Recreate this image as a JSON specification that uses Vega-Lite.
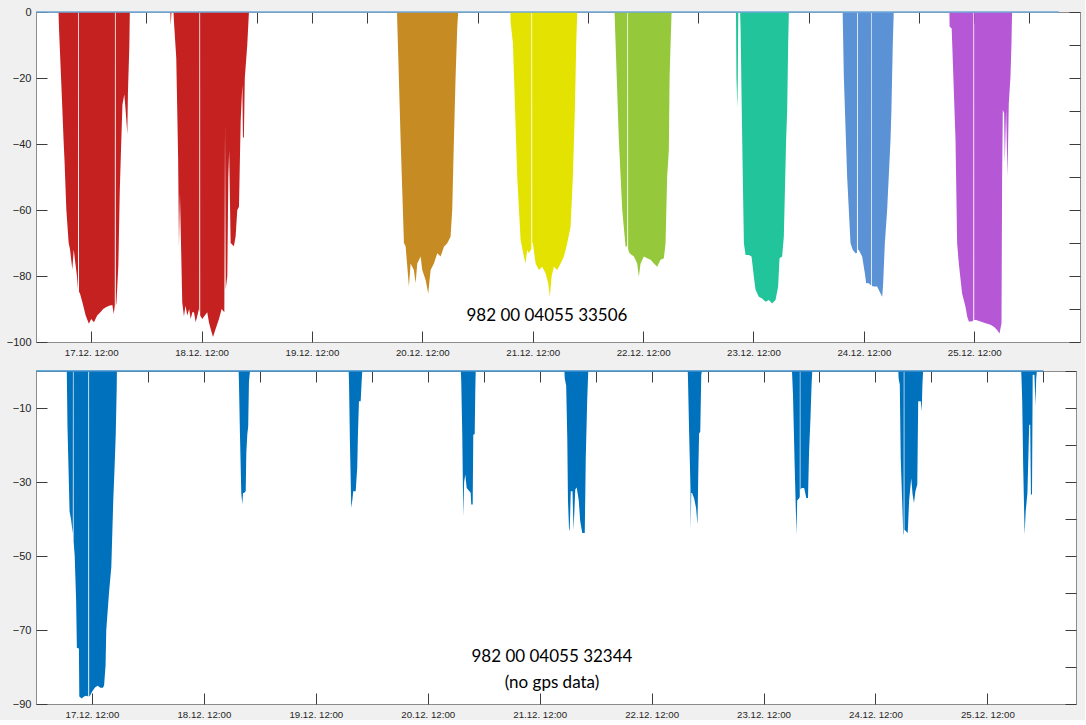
{
  "$schema": "https://vega.github.io/schema/vega-lite/v6.json",
  "background": "#f0f0f0",
  "padding": {"left": 5, "top": 5, "right": 4, "bottom": 0},
  "spacing": 9,
  "config": {
    "view": {"fill": "white", "stroke": "#8c8c8c", "strokeWidth": 1},
    "axis": {"grid": false, "domain": false, "tickColor": "#3c3c3c", "tickSize": 11, "offset": -11, "zindex": 1, "labelFont": "Liberation Sans", "labelColor": "#262626"}
  },
  "datasets": {
    "topdives": [
      {"t":"2017-12-17T04:54","d":0,"day":"17.12."},{"t":"2017-12-17T05:00","d":-5,"day":"17.12."},{"t":"2017-12-17T05:36","d":-25,"day":"17.12."},{"t":"2017-12-17T06:00","d":-39,"day":"17.12."},{"t":"2017-12-17T06:12","d":-45,"day":"17.12."},{"t":"2017-12-17T06:36","d":-60,"day":"17.12."},{"t":"2017-12-17T07:06","d":-70,"day":"17.12."},{"t":"2017-12-17T07:24","d":-72,"day":"17.12."},{"t":"2017-12-17T07:54","d":-78,"day":"17.12."},{"t":"2017-12-17T08:12","d":-72,"day":"17.12."},{"t":"2017-12-17T08:54","d":-80,"day":"17.12."},{"t":"2017-12-17T09:08","d":-84,"day":"17.12."},{"t":"2017-12-17T09:10","d":0,"day":"17.12."},{"t":"2017-12-17T09:20","d":0,"day":"17.12."},{"t":"2017-12-17T09:21","d":-85,"day":"17.12."},{"t":"2017-12-17T09:30","d":-85,"day":"17.12."},{"t":"2017-12-17T10:06","d":-88,"day":"17.12."},{"t":"2017-12-17T10:48","d":-92,"day":"17.12."},{"t":"2017-12-17T11:30","d":-94.5,"day":"17.12."},{"t":"2017-12-17T12:00","d":-93,"day":"17.12."},{"t":"2017-12-17T12:36","d":-94,"day":"17.12."},{"t":"2017-12-17T13:18","d":-92,"day":"17.12."},{"t":"2017-12-17T14:00","d":-91,"day":"17.12."},{"t":"2017-12-17T14:36","d":-90,"day":"17.12."},{"t":"2017-12-17T15:12","d":-89.5,"day":"17.12."},{"t":"2017-12-17T15:54","d":-89,"day":"17.12."},{"t":"2017-12-17T16:36","d":-88.8,"day":"17.12."},{"t":"2017-12-17T16:54","d":-91.5,"day":"17.12."},{"t":"2017-12-17T17:08","d":-89,"day":"17.12."},{"t":"2017-12-17T17:10","d":0,"day":"17.12."},{"t":"2017-12-17T17:20","d":0,"day":"17.12."},{"t":"2017-12-17T17:21","d":-89,"day":"17.12."},{"t":"2017-12-17T17:30","d":-88,"day":"17.12."},{"t":"2017-12-17T17:54","d":-77,"day":"17.12."},{"t":"2017-12-17T18:12","d":-55,"day":"17.12."},{"t":"2017-12-17T18:30","d":-41,"day":"17.12."},{"t":"2017-12-17T18:48","d":-28,"day":"17.12."},{"t":"2017-12-17T19:12","d":-25,"day":"17.12."},{"t":"2017-12-17T19:30","d":-30,"day":"17.12."},{"t":"2017-12-17T19:51","d":-37,"day":"17.12."},{"t":"2017-12-17T20:00","d":-24,"day":"17.12."},{"t":"2017-12-17T20:18","d":-10,"day":"17.12."},{"t":"2017-12-17T20:24","d":0,"day":"17.12."},

      {"t":"2017-12-18T05:12","d":0,"day":"18.12."},{"t":"2017-12-18T05:18","d":-4,"day":"18.12."},{"t":"2017-12-18T05:27","d":0,"day":"18.12."},{"t":"2017-12-18T05:54","d":0,"day":"18.12."},{"t":"2017-12-18T06:00","d":-3,"day":"18.12."},{"t":"2017-12-18T06:30","d":-14,"day":"18.12."},{"t":"2017-12-18T06:54","d":-44,"day":"18.12."},{"t":"2017-12-18T07:05","d":-71,"day":"18.12."},{"t":"2017-12-18T07:18","d":-55,"day":"18.12."},{"t":"2017-12-18T07:48","d":-88,"day":"18.12."},{"t":"2017-12-18T08:10","d":-92.3,"day":"18.12."},{"t":"2017-12-18T08:30","d":-89,"day":"18.12."},{"t":"2017-12-18T08:54","d":-92,"day":"18.12."},{"t":"2017-12-18T09:18","d":-90,"day":"18.12."},{"t":"2017-12-18T09:38","d":-93,"day":"18.12."},{"t":"2017-12-18T10:00","d":-91,"day":"18.12."},{"t":"2017-12-18T10:21","d":-91,"day":"18.12."},{"t":"2017-12-18T10:43","d":-94,"day":"18.12."},{"t":"2017-12-18T11:06","d":-92,"day":"18.12."},{"t":"2017-12-18T11:26","d":-90,"day":"18.12."},{"t":"2017-12-18T11:30","d":-91,"day":"18.12."},{"t":"2017-12-18T11:31","d":0,"day":"18.12."},{"t":"2017-12-18T11:41","d":0,"day":"18.12."},{"t":"2017-12-18T11:42","d":-92,"day":"18.12."},{"t":"2017-12-18T12:09","d":-93,"day":"18.12."},{"t":"2017-12-18T12:42","d":-92,"day":"18.12."},{"t":"2017-12-18T13:14","d":-91,"day":"18.12."},{"t":"2017-12-18T13:36","d":-94,"day":"18.12."},{"t":"2017-12-18T13:58","d":-96,"day":"18.12."},{"t":"2017-12-18T14:29","d":-98.5,"day":"18.12."},{"t":"2017-12-18T15:04","d":-96,"day":"18.12."},{"t":"2017-12-18T15:47","d":-93,"day":"18.12."},{"t":"2017-12-18T16:22","d":-90,"day":"18.12."},{"t":"2017-12-18T16:57","d":-91,"day":"18.12."},{"t":"2017-12-18T17:06","d":-34,"day":"18.12."},{"t":"2017-12-18T17:15","d":-84,"day":"18.12."},{"t":"2017-12-18T17:36","d":-80,"day":"18.12."},{"t":"2017-12-18T17:49","d":-50,"day":"18.12."},{"t":"2017-12-18T18:00","d":-42,"day":"18.12."},{"t":"2017-12-18T18:19","d":-70,"day":"18.12."},{"t":"2017-12-18T19:02","d":-71,"day":"18.12."},{"t":"2017-12-18T19:24","d":-68,"day":"18.12."},{"t":"2017-12-18T19:46","d":-60,"day":"18.12."},{"t":"2017-12-18T20:08","d":-59,"day":"18.12."},{"t":"2017-12-18T20:30","d":-33,"day":"18.12."},{"t":"2017-12-18T20:52","d":-22,"day":"18.12."},{"t":"2017-12-18T21:00","d":-38,"day":"18.12."},{"t":"2017-12-18T21:12","d":-38,"day":"18.12."},{"t":"2017-12-18T21:24","d":-20,"day":"18.12."},{"t":"2017-12-18T21:56","d":-10,"day":"18.12."},{"t":"2017-12-18T22:18","d":0,"day":"18.12."},

      {"t":"2017-12-20T06:30","d":0,"day":"20.12."},{"t":"2017-12-20T06:33","d":-3,"day":"20.12."},{"t":"2017-12-20T07:17","d":-38.8,"day":"20.12."},{"t":"2017-12-20T08:00","d":-70,"day":"20.12."},{"t":"2017-12-20T08:22","d":-71,"day":"20.12."},{"t":"2017-12-20T09:05","d":-83.2,"day":"20.12."},{"t":"2017-12-20T09:27","d":-76.2,"day":"20.12."},{"t":"2017-12-20T10:10","d":-78.2,"day":"20.12."},{"t":"2017-12-20T10:32","d":-82.2,"day":"20.12."},{"t":"2017-12-20T10:54","d":-76.2,"day":"20.12."},{"t":"2017-12-20T11:38","d":-74.1,"day":"20.12."},{"t":"2017-12-20T11:59","d":-78.2,"day":"20.12."},{"t":"2017-12-20T12:43","d":-81.2,"day":"20.12."},{"t":"2017-12-20T13:17","d":-85.3,"day":"20.12."},{"t":"2017-12-20T13:48","d":-78.2,"day":"20.12."},{"t":"2017-12-20T14:31","d":-76.2,"day":"20.12."},{"t":"2017-12-20T15:15","d":-73.1,"day":"20.12."},{"t":"2017-12-20T15:58","d":-74.1,"day":"20.12."},{"t":"2017-12-20T16:42","d":-71.1,"day":"20.12."},{"t":"2017-12-20T17:25","d":-70.1,"day":"20.12."},{"t":"2017-12-20T18:08","d":-68.1,"day":"20.12."},{"t":"2017-12-20T18:30","d":-60,"day":"20.12."},{"t":"2017-12-20T18:52","d":-38.8,"day":"20.12."},{"t":"2017-12-20T19:14","d":-19.6,"day":"20.12."},{"t":"2017-12-20T19:36","d":-4.4,"day":"20.12."},{"t":"2017-12-20T19:48","d":0,"day":"20.12."},

      {"t":"2017-12-21T07:09","d":0,"day":"21.12."},{"t":"2017-12-21T07:11","d":-3,"day":"21.12."},{"t":"2017-12-21T07:42","d":-9.5,"day":"21.12."},{"t":"2017-12-21T08:38","d":-49.9,"day":"21.12."},{"t":"2017-12-21T09:22","d":-69.1,"day":"21.12."},{"t":"2017-12-21T10:05","d":-74.1,"day":"21.12."},{"t":"2017-12-21T10:27","d":-76.2,"day":"21.12."},{"t":"2017-12-21T10:48","d":-72.1,"day":"21.12."},{"t":"2017-12-21T11:10","d":-73.1,"day":"21.12."},{"t":"2017-12-21T11:32","d":-72.1,"day":"21.12."},{"t":"2017-12-21T11:42","d":-72,"day":"21.12."},{"t":"2017-12-21T11:43","d":0,"day":"21.12."},{"t":"2017-12-21T11:53","d":0,"day":"21.12."},{"t":"2017-12-21T11:54","d":-70,"day":"21.12."},{"t":"2017-12-21T12:02","d":-70.1,"day":"21.12."},{"t":"2017-12-21T12:38","d":-76.2,"day":"21.12."},{"t":"2017-12-21T13:21","d":-78.2,"day":"21.12."},{"t":"2017-12-21T14:04","d":-77.2,"day":"21.12."},{"t":"2017-12-21T14:48","d":-79.2,"day":"21.12."},{"t":"2017-12-21T15:22","d":-82.2,"day":"21.12."},{"t":"2017-12-21T15:44","d":-86.3,"day":"21.12."},{"t":"2017-12-21T16:06","d":-80.2,"day":"21.12."},{"t":"2017-12-21T16:36","d":-77.2,"day":"21.12."},{"t":"2017-12-21T17:20","d":-78.2,"day":"21.12."},{"t":"2017-12-21T18:04","d":-76.2,"day":"21.12."},{"t":"2017-12-21T18:47","d":-74.1,"day":"21.12."},{"t":"2017-12-21T19:30","d":-70.1,"day":"21.12."},{"t":"2017-12-21T20:14","d":-65.1,"day":"21.12."},{"t":"2017-12-21T20:44","d":-49.9,"day":"21.12."},{"t":"2017-12-21T21:10","d":-29.7,"day":"21.12."},{"t":"2017-12-21T21:28","d":-9.5,"day":"21.12."},{"t":"2017-12-21T21:41","d":0,"day":"21.12."},

      {"t":"2017-12-22T05:48","d":0,"day":"22.12."},{"t":"2017-12-22T05:52","d":-3,"day":"22.12."},{"t":"2017-12-22T06:01","d":-9.5,"day":"22.12."},{"t":"2017-12-22T06:44","d":-38.8,"day":"22.12."},{"t":"2017-12-22T07:28","d":-60,"day":"22.12."},{"t":"2017-12-22T08:12","d":-71.1,"day":"22.12."},{"t":"2017-12-22T08:33","d":-71,"day":"22.12."},{"t":"2017-12-22T08:34","d":0,"day":"22.12."},{"t":"2017-12-22T08:44","d":0,"day":"22.12."},{"t":"2017-12-22T08:45","d":-72,"day":"22.12."},{"t":"2017-12-22T09:04","d":-73.1,"day":"22.12."},{"t":"2017-12-22T10:00","d":-74.1,"day":"22.12."},{"t":"2017-12-22T10:43","d":-76.2,"day":"22.12."},{"t":"2017-12-22T11:05","d":-80.2,"day":"22.12."},{"t":"2017-12-22T11:27","d":-76.2,"day":"22.12."},{"t":"2017-12-22T12:10","d":-74.1,"day":"22.12."},{"t":"2017-12-22T12:53","d":-74.6,"day":"22.12."},{"t":"2017-12-22T13:38","d":-75.1,"day":"22.12."},{"t":"2017-12-22T14:21","d":-76.2,"day":"22.12."},{"t":"2017-12-22T15:04","d":-77.2,"day":"22.12."},{"t":"2017-12-22T15:48","d":-75.1,"day":"22.12."},{"t":"2017-12-22T16:31","d":-74.6,"day":"22.12."},{"t":"2017-12-22T16:53","d":-70.1,"day":"22.12."},{"t":"2017-12-22T17:14","d":-49.9,"day":"22.12."},{"t":"2017-12-22T17:36","d":-41.8,"day":"22.12."},{"t":"2017-12-22T17:46","d":-19.6,"day":"22.12."},{"t":"2017-12-22T17:59","d":-9.5,"day":"22.12."},{"t":"2017-12-22T18:12","d":0,"day":"22.12."},

      {"t":"2017-12-23T08:12","d":0,"day":"23.12."},{"t":"2017-12-23T08:18","d":-20,"day":"23.12."},{"t":"2017-12-23T08:30","d":-29,"day":"23.12."},{"t":"2017-12-23T08:36","d":-20,"day":"23.12."},{"t":"2017-12-23T08:42","d":0,"day":"23.12."},{"t":"2017-12-23T09:06","d":0,"day":"23.12."},{"t":"2017-12-23T09:12","d":-5,"day":"23.12."},{"t":"2017-12-23T09:33","d":-38.8,"day":"23.12."},{"t":"2017-12-23T09:55","d":-70.1,"day":"23.12."},{"t":"2017-12-23T10:17","d":-73.6,"day":"23.12."},{"t":"2017-12-23T11:00","d":-73.6,"day":"23.12."},{"t":"2017-12-23T11:35","d":-74.1,"day":"23.12."},{"t":"2017-12-23T12:05","d":-80.2,"day":"23.12."},{"t":"2017-12-23T12:27","d":-84.2,"day":"23.12."},{"t":"2017-12-23T13:10","d":-86.3,"day":"23.12."},{"t":"2017-12-23T13:53","d":-86.8,"day":"23.12."},{"t":"2017-12-23T14:38","d":-87.8,"day":"23.12."},{"t":"2017-12-23T15:21","d":-87.3,"day":"23.12."},{"t":"2017-12-23T16:04","d":-88.3,"day":"23.12."},{"t":"2017-12-23T16:48","d":-87.3,"day":"23.12."},{"t":"2017-12-23T17:22","d":-83.2,"day":"23.12."},{"t":"2017-12-23T17:40","d":-74.6,"day":"23.12."},{"t":"2017-12-23T18:14","d":-74.1,"day":"23.12."},{"t":"2017-12-23T18:36","d":-68.1,"day":"23.12."},{"t":"2017-12-23T19:06","d":-38.8,"day":"23.12."},{"t":"2017-12-23T19:20","d":-29.7,"day":"23.12."},{"t":"2017-12-23T19:33","d":-9.5,"day":"23.12."},{"t":"2017-12-23T19:42","d":0,"day":"23.12."},

      {"t":"2017-12-24T07:24","d":0,"day":"24.12."},{"t":"2017-12-24T07:26","d":-3,"day":"24.12."},{"t":"2017-12-24T07:39","d":-19.6,"day":"24.12."},{"t":"2017-12-24T08:22","d":-49.9,"day":"24.12."},{"t":"2017-12-24T09:06","d":-70.1,"day":"24.12."},{"t":"2017-12-24T09:36","d":-72.1,"day":"24.12."},{"t":"2017-12-24T10:12","d":-73.1,"day":"24.12."},{"t":"2017-12-24T10:30","d":-73,"day":"24.12."},{"t":"2017-12-24T10:31","d":0,"day":"24.12."},{"t":"2017-12-24T10:41","d":0,"day":"24.12."},{"t":"2017-12-24T10:42","d":-72,"day":"24.12."},{"t":"2017-12-24T10:54","d":-72.1,"day":"24.12."},{"t":"2017-12-24T11:38","d":-74.1,"day":"24.12."},{"t":"2017-12-24T12:13","d":-79.2,"day":"24.12."},{"t":"2017-12-24T12:30","d":-82.2,"day":"24.12."},{"t":"2017-12-24T13:05","d":-82.2,"day":"24.12."},{"t":"2017-12-24T13:27","d":-82.7,"day":"24.12."},{"t":"2017-12-24T13:36","d":-82.7,"day":"24.12."},{"t":"2017-12-24T13:37","d":0,"day":"24.12."},{"t":"2017-12-24T13:45","d":0,"day":"24.12."},{"t":"2017-12-24T13:46","d":-83,"day":"24.12."},{"t":"2017-12-24T14:10","d":-83.2,"day":"24.12."},{"t":"2017-12-24T14:53","d":-83.2,"day":"24.12."},{"t":"2017-12-24T15:38","d":-85.3,"day":"24.12."},{"t":"2017-12-24T16:00","d":-86.3,"day":"24.12."},{"t":"2017-12-24T16:12","d":-82.2,"day":"24.12."},{"t":"2017-12-24T16:34","d":-70.1,"day":"24.12."},{"t":"2017-12-24T17:04","d":-60,"day":"24.12."},{"t":"2017-12-24T17:48","d":-38.8,"day":"24.12."},{"t":"2017-12-24T18:00","d":-29.7,"day":"24.12."},{"t":"2017-12-24T18:18","d":-9.5,"day":"24.12."},{"t":"2017-12-24T18:30","d":0,"day":"24.12."},

      {"t":"2017-12-25T06:36","d":0,"day":"25.12."},{"t":"2017-12-25T06:39","d":-4.4,"day":"25.12."},{"t":"2017-12-25T07:06","d":-5,"day":"25.12."},{"t":"2017-12-25T07:56","d":-38.8,"day":"25.12."},{"t":"2017-12-25T08:17","d":-70.1,"day":"25.12."},{"t":"2017-12-25T08:39","d":-76.2,"day":"25.12."},{"t":"2017-12-25T09:22","d":-85.3,"day":"25.12."},{"t":"2017-12-25T10:06","d":-89.3,"day":"25.12."},{"t":"2017-12-25T10:28","d":-92.3,"day":"25.12."},{"t":"2017-12-25T10:50","d":-93.8,"day":"25.12."},{"t":"2017-12-25T11:25","d":-93.8,"day":"25.12."},{"t":"2017-12-25T11:48","d":-93.5,"day":"25.12."},{"t":"2017-12-25T11:49","d":0,"day":"25.12."},{"t":"2017-12-25T11:59","d":0,"day":"25.12."},{"t":"2017-12-25T12:00","d":-93.3,"day":"25.12."},{"t":"2017-12-25T12:25","d":-93.3,"day":"25.12."},{"t":"2017-12-25T13:22","d":-93.8,"day":"25.12."},{"t":"2017-12-25T14:28","d":-94.3,"day":"25.12."},{"t":"2017-12-25T15:32","d":-94.8,"day":"25.12."},{"t":"2017-12-25T16:16","d":-95.4,"day":"25.12."},{"t":"2017-12-25T16:59","d":-96.4,"day":"25.12."},{"t":"2017-12-25T17:30","d":-97.4,"day":"25.12."},{"t":"2017-12-25T17:56","d":-94.3,"day":"25.12."},{"t":"2017-12-25T18:04","d":-49.9,"day":"25.12."},{"t":"2017-12-25T18:13","d":-29.7,"day":"25.12."},{"t":"2017-12-25T18:30","d":-30.7,"day":"25.12."},{"t":"2017-12-25T18:39","d":-45.9,"day":"25.12."},{"t":"2017-12-25T18:56","d":-29.7,"day":"25.12."},{"t":"2017-12-25T19:14","d":-49.9,"day":"25.12."},{"t":"2017-12-25T19:31","d":-27.7,"day":"25.12."},{"t":"2017-12-25T19:53","d":-19.6,"day":"25.12."},{"t":"2017-12-25T20:06","d":-9.5,"day":"25.12."},{"t":"2017-12-25T20:14","d":0,"day":"25.12."}
    ],
    "botdives": [
      {"t":"2017-12-17T06:36","d":0,"day":"17.12."},{"t":"2017-12-17T06:45","d":-15,"day":"17.12."},{"t":"2017-12-17T07:12","d":-38,"day":"17.12."},{"t":"2017-12-17T07:30","d":-40,"day":"17.12."},{"t":"2017-12-17T07:54","d":-44,"day":"17.12."},{"t":"2017-12-17T07:55","d":0,"day":"17.12."},{"t":"2017-12-17T08:03","d":0,"day":"17.12."},{"t":"2017-12-17T08:04","d":-46,"day":"17.12."},{"t":"2017-12-17T08:18","d":-50,"day":"17.12."},{"t":"2017-12-17T08:36","d":-62,"day":"17.12."},{"t":"2017-12-17T08:46","d":-74.8,"day":"17.12."},{"t":"2017-12-17T09:12","d":-75,"day":"17.12."},{"t":"2017-12-17T09:17","d":-88,"day":"17.12."},{"t":"2017-12-17T09:48","d":-88.5,"day":"17.12."},{"t":"2017-12-17T10:18","d":-88,"day":"17.12."},{"t":"2017-12-17T10:48","d":-87.8,"day":"17.12."},{"t":"2017-12-17T11:12","d":-88,"day":"17.12."},{"t":"2017-12-17T11:13","d":0,"day":"17.12."},{"t":"2017-12-17T11:23","d":0,"day":"17.12."},{"t":"2017-12-17T11:24","d":-88,"day":"17.12."},{"t":"2017-12-17T11:31","d":-87.9,"day":"17.12."},{"t":"2017-12-17T12:07","d":-86.5,"day":"17.12."},{"t":"2017-12-17T12:42","d":-85.5,"day":"17.12."},{"t":"2017-12-17T13:14","d":-85.1,"day":"17.12."},{"t":"2017-12-17T13:48","d":-85.6,"day":"17.12."},{"t":"2017-12-17T14:20","d":-85.6,"day":"17.12."},{"t":"2017-12-17T14:36","d":-85,"day":"17.12."},{"t":"2017-12-17T14:55","d":-79.5,"day":"17.12."},{"t":"2017-12-17T15:04","d":-70,"day":"17.12."},{"t":"2017-12-17T15:39","d":-60,"day":"17.12."},{"t":"2017-12-17T16:09","d":-53,"day":"17.12."},{"t":"2017-12-17T16:34","d":-35,"day":"17.12."},{"t":"2017-12-17T16:52","d":-25.5,"day":"17.12."},{"t":"2017-12-17T17:06","d":-17,"day":"17.12."},{"t":"2017-12-17T17:18","d":-5,"day":"17.12."},{"t":"2017-12-17T17:21","d":0,"day":"17.12."},

      {"t":"2017-12-18T19:27","d":0,"day":"18.12."},{"t":"2017-12-18T19:31","d":-3,"day":"18.12."},{"t":"2017-12-18T19:44","d":-17,"day":"18.12."},{"t":"2017-12-18T20:01","d":-33,"day":"18.12."},{"t":"2017-12-18T20:14","d":-36,"day":"18.12."},{"t":"2017-12-18T20:24","d":-33,"day":"18.12."},{"t":"2017-12-18T20:36","d":-33,"day":"18.12."},{"t":"2017-12-18T20:58","d":-32.5,"day":"18.12."},{"t":"2017-12-18T21:06","d":-22,"day":"18.12."},{"t":"2017-12-18T21:19","d":-17,"day":"18.12."},{"t":"2017-12-18T21:30","d":-15,"day":"18.12."},{"t":"2017-12-18T21:40","d":-2.7,"day":"18.12."},{"t":"2017-12-18T21:53","d":0,"day":"18.12."},

      {"t":"2017-12-19T19:03","d":0,"day":"19.12."},{"t":"2017-12-19T19:07","d":-3,"day":"19.12."},{"t":"2017-12-19T19:19","d":-19.5,"day":"19.12."},{"t":"2017-12-19T19:36","d":-37,"day":"19.12."},{"t":"2017-12-19T19:49","d":-35,"day":"19.12."},{"t":"2017-12-19T20:02","d":-32.5,"day":"19.12."},{"t":"2017-12-19T20:33","d":-32.5,"day":"19.12."},{"t":"2017-12-19T20:53","d":-26,"day":"19.12."},{"t":"2017-12-19T21:02","d":-17,"day":"19.12."},{"t":"2017-12-19T21:15","d":-8.2,"day":"19.12."},{"t":"2017-12-19T21:37","d":-8.2,"day":"19.12."},{"t":"2017-12-19T21:50","d":-2.7,"day":"19.12."},{"t":"2017-12-19T21:58","d":0,"day":"19.12."},

      {"t":"2017-12-20T19:06","d":0,"day":"20.12."},{"t":"2017-12-20T19:11","d":-3,"day":"20.12."},{"t":"2017-12-20T19:24","d":-17,"day":"20.12."},{"t":"2017-12-20T19:37","d":-39.3,"day":"20.12."},{"t":"2017-12-20T19:48","d":-30,"day":"20.12."},{"t":"2017-12-20T20:03","d":-28,"day":"20.12."},{"t":"2017-12-20T20:21","d":-31.6,"day":"20.12."},{"t":"2017-12-20T20:37","d":-32,"day":"20.12."},{"t":"2017-12-20T21:12","d":-32.9,"day":"20.12."},{"t":"2017-12-20T21:20","d":-36.1,"day":"20.12."},{"t":"2017-12-20T21:38","d":-36.1,"day":"20.12."},{"t":"2017-12-20T21:46","d":-17.2,"day":"20.12."},{"t":"2017-12-20T22:04","d":-17,"day":"20.12."},{"t":"2017-12-20T22:12","d":-5,"day":"20.12."},{"t":"2017-12-20T22:17","d":0,"day":"20.12."},

      {"t":"2017-12-21T17:18","d":0,"day":"21.12."},{"t":"2017-12-21T17:23","d":-2,"day":"21.12."},{"t":"2017-12-21T17:41","d":-4,"day":"21.12."},{"t":"2017-12-21T17:55","d":-18,"day":"21.12."},{"t":"2017-12-21T18:04","d":-35,"day":"21.12."},{"t":"2017-12-21T18:17","d":-42.4,"day":"21.12."},{"t":"2017-12-21T18:26","d":-43.3,"day":"21.12."},{"t":"2017-12-21T18:40","d":-32.5,"day":"21.12."},{"t":"2017-12-21T19:02","d":-32.5,"day":"21.12."},{"t":"2017-12-21T19:16","d":-43,"day":"21.12."},{"t":"2017-12-21T19:38","d":-32,"day":"21.12."},{"t":"2017-12-21T19:56","d":-31.5,"day":"21.12."},{"t":"2017-12-21T20:23","d":-35,"day":"21.12."},{"t":"2017-12-21T20:41","d":-40.5,"day":"21.12."},{"t":"2017-12-21T21:08","d":-43.8,"day":"21.12."},{"t":"2017-12-21T21:40","d":-43.8,"day":"21.12."},{"t":"2017-12-21T21:53","d":-23.5,"day":"21.12."},{"t":"2017-12-21T22:11","d":-8.2,"day":"21.12."},{"t":"2017-12-21T22:25","d":0,"day":"21.12."},

      {"t":"2017-12-22T19:45","d":0,"day":"22.12."},{"t":"2017-12-22T19:48","d":-2,"day":"22.12."},{"t":"2017-12-22T20:02","d":-16,"day":"22.12."},{"t":"2017-12-22T20:20","d":-31.6,"day":"22.12."},{"t":"2017-12-22T20:23","d":-42.9,"day":"22.12."},{"t":"2017-12-22T20:30","d":-33,"day":"22.12."},{"t":"2017-12-22T20:41","d":-33,"day":"22.12."},{"t":"2017-12-22T21:08","d":-34.5,"day":"22.12."},{"t":"2017-12-22T21:32","d":-37,"day":"22.12."},{"t":"2017-12-22T21:50","d":-41.5,"day":"22.12."},{"t":"2017-12-22T22:02","d":-26,"day":"22.12."},{"t":"2017-12-22T22:11","d":-16.8,"day":"22.12."},{"t":"2017-12-22T22:26","d":-16.5,"day":"22.12."},{"t":"2017-12-22T22:39","d":-1,"day":"22.12."},{"t":"2017-12-22T22:48","d":0,"day":"22.12."},

      {"t":"2017-12-23T18:06","d":0,"day":"23.12."},{"t":"2017-12-23T18:10","d":-2,"day":"23.12."},{"t":"2017-12-23T18:19","d":-6.4,"day":"23.12."},{"t":"2017-12-23T18:41","d":-26,"day":"23.12."},{"t":"2017-12-23T19:04","d":-44.2,"day":"23.12."},{"t":"2017-12-23T19:13","d":-35,"day":"23.12."},{"t":"2017-12-23T19:40","d":-34.3,"day":"23.12."},{"t":"2017-12-23T19:46","d":-34,"day":"23.12."},{"t":"2017-12-23T19:47","d":0,"day":"23.12."},{"t":"2017-12-23T19:54","d":0,"day":"23.12."},{"t":"2017-12-23T19:55","d":-32,"day":"23.12."},{"t":"2017-12-23T20:11","d":-31.6,"day":"23.12."},{"t":"2017-12-23T20:43","d":-31.6,"day":"23.12."},{"t":"2017-12-23T21:10","d":-34.3,"day":"23.12."},{"t":"2017-12-23T21:32","d":-34.3,"day":"23.12."},{"t":"2017-12-23T21:46","d":-21.7,"day":"23.12."},{"t":"2017-12-23T22:04","d":-12.7,"day":"23.12."},{"t":"2017-12-23T22:18","d":-3.7,"day":"23.12."},{"t":"2017-12-23T22:27","d":0,"day":"23.12."},

      {"t":"2017-12-24T16:54","d":0,"day":"24.12."},{"t":"2017-12-24T16:58","d":-2,"day":"24.12."},{"t":"2017-12-24T17:13","d":-3.7,"day":"24.12."},{"t":"2017-12-24T17:25","d":-23.5,"day":"24.12."},{"t":"2017-12-24T17:43","d":-35,"day":"24.12."},{"t":"2017-12-24T17:58","d":-44.2,"day":"24.12."},{"t":"2017-12-24T18:03","d":-44,"day":"24.12."},{"t":"2017-12-24T18:04","d":0,"day":"24.12."},{"t":"2017-12-24T18:12","d":0,"day":"24.12."},{"t":"2017-12-24T18:13","d":-43,"day":"24.12."},{"t":"2017-12-24T18:19","d":-43,"day":"24.12."},{"t":"2017-12-24T18:55","d":-43.8,"day":"24.12."},{"t":"2017-12-24T19:13","d":-35,"day":"24.12."},{"t":"2017-12-24T19:40","d":-29,"day":"24.12."},{"t":"2017-12-24T19:58","d":-33.4,"day":"24.12."},{"t":"2017-12-24T20:16","d":-35.7,"day":"24.12."},{"t":"2017-12-24T20:34","d":-32.5,"day":"24.12."},{"t":"2017-12-24T20:58","d":-30.7,"day":"24.12."},{"t":"2017-12-24T21:10","d":-8.2,"day":"24.12."},{"t":"2017-12-24T21:43","d":-8.2,"day":"24.12."},{"t":"2017-12-24T21:55","d":-10.9,"day":"24.12."},{"t":"2017-12-24T22:04","d":-3.7,"day":"24.12."},{"t":"2017-12-24T22:13","d":0,"day":"24.12."},

      {"t":"2017-12-25T19:15","d":0,"day":"25.12."},{"t":"2017-12-25T19:19","d":-2,"day":"25.12."},{"t":"2017-12-25T19:28","d":-8.2,"day":"25.12."},{"t":"2017-12-25T19:41","d":-26.2,"day":"25.12."},{"t":"2017-12-25T19:59","d":-44.2,"day":"25.12."},{"t":"2017-12-25T20:13","d":-37.9,"day":"25.12."},{"t":"2017-12-25T20:35","d":-33,"day":"25.12."},{"t":"2017-12-25T20:58","d":-14.5,"day":"25.12."},{"t":"2017-12-25T21:11","d":-14.5,"day":"25.12."},{"t":"2017-12-25T21:20","d":-33.4,"day":"25.12."},{"t":"2017-12-25T21:34","d":-33.4,"day":"25.12."},{"t":"2017-12-25T21:43","d":-1,"day":"25.12."},{"t":"2017-12-25T22:05","d":-1,"day":"25.12."},{"t":"2017-12-25T22:19","d":-9.3,"day":"25.12."},{"t":"2017-12-25T22:28","d":-2,"day":"25.12."},{"t":"2017-12-25T22:37","d":0,"day":"25.12."}
    ],
    "surfTop": [{"t":"2017-12-17T00:00","d":0},{"t":"2017-12-26T06:24","d":0}],
    "surfBot": [{"t":"2017-12-17T00:00","d":0},{"t":"2017-12-26T00:00","d":0}],
    "txtTop": [{"t":"2017-12-21T15:06","d":-92.1,"label":"982 00 04055 33506"}],
    "txtBot": [{"t":"2017-12-21T14:38","d":-77.3,"label":"982 00 04055 32344"},{"t":"2017-12-21T14:38","d":-84.3,"label":"(no gps data)"}]
  },
  "vconcat": [
    {
      "width": 1044,
      "height": 330,
      "layer": [
        {
          "layer": [
            {
              "data": {"name": "topdives"},
              "mark": {"type": "area", "interpolate": "linear"},
              "encoding": {
                "x": {"field": "t", "type": "temporal",
                  "scale": {"domain": [{"year":2017,"month":12,"date":17,"hours":0},{"year":2017,"month":12,"date":26,"hours":11}], "nice": false},
                  "axis": {"orient": "bottom", "format": "%d.%m. %H:%M", "values": [{"year":2017,"month":12,"date":17,"hours":12},{"year":2017,"month":12,"date":18,"hours":12},{"year":2017,"month":12,"date":19,"hours":12},{"year":2017,"month":12,"date":20,"hours":12},{"year":2017,"month":12,"date":21,"hours":12},{"year":2017,"month":12,"date":22,"hours":12},{"year":2017,"month":12,"date":23,"hours":12},{"year":2017,"month":12,"date":24,"hours":12},{"year":2017,"month":12,"date":25,"hours":12}], "labelFontSize": 9.7, "labelPadding": 5, "labelOverlap": false, "labelFlush": false, "title": null}},
                "y": {"field": "d", "type": "quantitative", "stack": null,
                  "scale": {"domain": [-100, 0], "nice": false},
                  "axis": {"orient": "left", "values": [0,-10,-20,-30,-40,-50,-60,-70,-80,-90,-100], "labelFontSize": 11, "labelPadding": 5, "labelOverlap": false, "labelFlush": false, "title": null}},
                "color": {"field": "day", "type": "nominal",
                  "scale": {"domain": ["17.12.","18.12.","20.12.","21.12.","22.12.","23.12.","24.12.","25.12."], "range": ["#c62121","#c62121","#c68b23","#e3e200","#95c83a","#22c59b","#5b92d5","#b658d6"]},
                  "legend": null}
              }
            },
            {
              "data": {"name": "txtTop"},
              "mark": {"type": "text", "font": "Lato", "fontSize": 17, "color": "black", "baseline": "middle", "align": "center"},
              "encoding": {
                "x": {"field": "t", "type": "temporal"},
                "y": {"field": "d", "type": "quantitative"},
                "text": {"field": "label", "type": "nominal"}
              }
            }
          ]
        },
        {
          "data": {"name": "surfTop"},
          "mark": {"type": "line", "color": "#6fa9d9", "strokeWidth": 1.5},
          "encoding": {
            "x": {"field": "t", "type": "temporal",
              "scale": {"domain": [{"year":2017,"month":12,"date":17,"hours":0},{"year":2017,"month":12,"date":26,"hours":11}], "nice": false},
              "axis": {"orient": "top", "labels": false, "values": [{"year":2017,"month":12,"date":17,"hours":12},{"year":2017,"month":12,"date":18,"hours":0},{"year":2017,"month":12,"date":18,"hours":12},{"year":2017,"month":12,"date":19,"hours":0},{"year":2017,"month":12,"date":19,"hours":12},{"year":2017,"month":12,"date":20,"hours":0},{"year":2017,"month":12,"date":20,"hours":12},{"year":2017,"month":12,"date":21,"hours":0},{"year":2017,"month":12,"date":21,"hours":12},{"year":2017,"month":12,"date":22,"hours":0},{"year":2017,"month":12,"date":22,"hours":12},{"year":2017,"month":12,"date":23,"hours":0},{"year":2017,"month":12,"date":23,"hours":12},{"year":2017,"month":12,"date":24,"hours":0},{"year":2017,"month":12,"date":24,"hours":12},{"year":2017,"month":12,"date":25,"hours":0},{"year":2017,"month":12,"date":25,"hours":12},{"year":2017,"month":12,"date":26,"hours":0}], "title": null}},
            "y": {"field": "d", "type": "quantitative",
              "scale": {"domain": [-100, 0], "nice": false},
              "axis": {"orient": "right", "labels": false, "values": [0,-10,-20,-30,-40,-50,-60,-70,-80,-90,-100], "title": null}}
          }
        }
      ],
      "resolve": {"axis": {"x": "independent", "y": "independent"}}
    },
    {
      "width": 1040,
      "height": 333,
      "layer": [
        {
          "layer": [
            {
              "data": {"name": "botdives"},
              "mark": {"type": "area", "interpolate": "linear", "color": "#0072bd"},
              "encoding": {
                "x": {"field": "t", "type": "temporal",
                  "scale": {"domain": [{"year":2017,"month":12,"date":17,"hours":0},{"year":2017,"month":12,"date":26,"hours":7}], "nice": false},
                  "axis": {"orient": "bottom", "format": "%d.%m. %H:%M", "values": [{"year":2017,"month":12,"date":17,"hours":12},{"year":2017,"month":12,"date":18,"hours":12},{"year":2017,"month":12,"date":19,"hours":12},{"year":2017,"month":12,"date":20,"hours":12},{"year":2017,"month":12,"date":21,"hours":12},{"year":2017,"month":12,"date":22,"hours":12},{"year":2017,"month":12,"date":23,"hours":12},{"year":2017,"month":12,"date":24,"hours":12},{"year":2017,"month":12,"date":25,"hours":12}], "labelFontSize": 9.7, "labelPadding": 5, "labelOverlap": false, "labelFlush": false, "title": null}},
                "y": {"field": "d", "type": "quantitative", "stack": null,
                  "scale": {"domain": [-90, 0], "nice": false},
                  "axis": {"orient": "left", "values": [0,-10,-20,-30,-40,-50,-60,-70,-80,-90], "labelFontSize": 11, "labelPadding": 5, "labelOverlap": false, "labelFlush": false, "title": null}},
                "detail": {"field": "day", "type": "nominal"}
              }
            },
            {
              "data": {"name": "txtBot"},
              "mark": {"type": "text", "font": "Lato", "fontSize": 17, "color": "black", "baseline": "middle", "align": "center"},
              "encoding": {
                "x": {"field": "t", "type": "temporal"},
                "y": {"field": "d", "type": "quantitative"},
                "text": {"field": "label", "type": "nominal"}
              }
            }
          ]
        },
        {
          "data": {"name": "surfBot"},
          "mark": {"type": "line", "color": "#3d8fcc", "strokeWidth": 1.5},
          "encoding": {
            "x": {"field": "t", "type": "temporal",
              "scale": {"domain": [{"year":2017,"month":12,"date":17,"hours":0},{"year":2017,"month":12,"date":26,"hours":7}], "nice": false},
              "axis": {"orient": "top", "labels": false, "values": [{"year":2017,"month":12,"date":17,"hours":12},{"year":2017,"month":12,"date":18,"hours":0},{"year":2017,"month":12,"date":18,"hours":12},{"year":2017,"month":12,"date":19,"hours":0},{"year":2017,"month":12,"date":19,"hours":12},{"year":2017,"month":12,"date":20,"hours":0},{"year":2017,"month":12,"date":20,"hours":12},{"year":2017,"month":12,"date":21,"hours":0},{"year":2017,"month":12,"date":21,"hours":12},{"year":2017,"month":12,"date":22,"hours":0},{"year":2017,"month":12,"date":22,"hours":12},{"year":2017,"month":12,"date":23,"hours":0},{"year":2017,"month":12,"date":23,"hours":12},{"year":2017,"month":12,"date":24,"hours":0},{"year":2017,"month":12,"date":24,"hours":12},{"year":2017,"month":12,"date":25,"hours":0},{"year":2017,"month":12,"date":25,"hours":12},{"year":2017,"month":12,"date":26,"hours":0}], "title": null}},
            "y": {"field": "d", "type": "quantitative",
              "scale": {"domain": [-90, 0], "nice": false},
              "axis": {"orient": "right", "labels": false, "values": [0,-10,-20,-30,-40,-50,-60,-70,-80,-90], "title": null}}
          }
        }
      ],
      "resolve": {"axis": {"x": "independent", "y": "independent"}}
    }
  ]
}
